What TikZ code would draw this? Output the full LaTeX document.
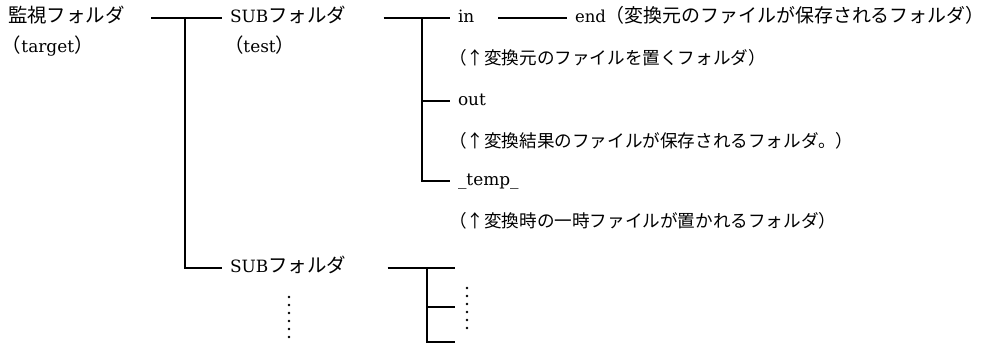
\documentclass[tikz,border=0pt]{standalone}
\usepackage{fontspec}
\setmainfont{DejaVu Serif}[Scale=0.87]
\newfontfamily\jp{Noto Sans CJK JP}

\begin{document}
\begin{tikzpicture}[x=0.75pt, y=-0.75pt,
    lbl/.style={anchor=west, inner sep=0pt, outer xsep=6pt, text height=0.88em, text depth=0.12em, font=\fontsize{14.6}{17}\selectfont},
    note/.style={lbl, font=\fontsize{13.2}{15}\selectfont},
    tree/.style={line width=1.4pt},
    dots/.style={line width=2pt, line cap=round, dash pattern=on 0pt off 6pt}]
    \useasboundingbox (0,0) rectangle (987,344);
    \node[lbl] (root) at (0,18) {\jp 監視フォルダ};
    \node[lbl] (roottag) at (-6,48) {{\jp （}target{\jp ）}};
    \node[lbl] (sub1) at (222,18) {SUB{\jp フォルダ}};
    \node[lbl] (sub1tag) at (216,48) {{\jp （}test{\jp ）}};
    \node[lbl] (in) at (450,18) {in};
    \node[lbl, font=\fontsize{14.2}{17}\selectfont] (end) at (567,18) {end{\jp （変換元のファイルが保存されるフォルダ）}};
    \node[note] (innote) at (441,60) {\jp （↑変換元のファイルを置くフォルダ）};
    \node[lbl] (out) at (450,101) {out};
    \node[note] (outnote) at (441,143) {\jp （↑変換結果のファイルが保存されるフォルダ。）};
    \node[lbl] (temp) at (450,181) {\_temp\_};
    \node[note] (tempnote) at (441,223) {\jp （↑変換時の一時ファイルが置かれるフォルダ）};
    \node[lbl] (sub2) at (222,268) {SUB{\jp フォルダ}};
    \coordinate (j1) at (185,18);
    \coordinate (j2) at (422,18);
    \coordinate (j3) at (427,268);
    \coordinate (f1) at (455,268);
    \coordinate (f2) at (455,307);
    \coordinate (f3) at (455,342);
    \coordinate (d1a) at (289,297);
    \coordinate (d1b) at (289,337);
    \coordinate (d2a) at (467,288);
    \coordinate (d2b) at (467,328);
    \draw[tree, shorten <=14pt] (root.east) -- (sub1.west);
    \draw[tree] (j1) |- (sub2.west);
    \draw[tree, shorten <=22pt] (sub1.east) -- (in.west);
    \draw[tree] (j2) |- (out.west);
    \draw[tree] (j2) |- (temp.west);
    \draw[tree, shorten <=12pt] (in.east) -- (end.west);
    \draw[tree, shorten <=25pt] (sub2.east) -- (f1);
    \draw[tree] (j3) |- (f2);
    \draw[tree] (j3) |- (f3);
    \draw[dots] (d1a) -- (d1b);
    \draw[dots] (d2a) -- (d2b);
\end{tikzpicture}
\end{document}
